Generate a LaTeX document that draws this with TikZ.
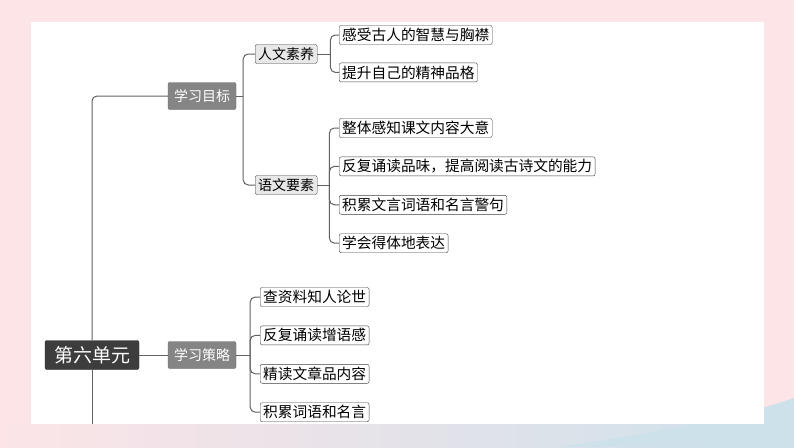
\documentclass[tikz,border=0pt]{standalone}
\usepackage{fontspec}
\newfontfamily\cjk{Noto Sans CJK SC}
\usepackage{xcolor}
\usepackage{tikz}
\usetikzlibrary{positioning}
\definecolor{bgpink}{HTML}{FCE4E7}
\definecolor{bgblue}{HTML}{CDE1EB}

\begin{document}
\begin{tikzpicture}[x=1pt, y=-1pt,
  unit/.style={draw=black!85, fill=black!76, rounded corners=2pt, text=white,
    font=\cjk\fontsize{19}{21}\selectfont, minimum height=29pt, inner xsep=9pt, inner ysep=0pt},
  topic/.style={draw=black!60, fill=black!48, rounded corners=2pt, text=white,
    font=\cjk\fontsize{14}{16}\selectfont, minimum height=27pt, inner xsep=6pt, inner ysep=0pt},
  sub/.style={draw=black!75, fill=black!9, rounded corners=1.5pt,
    font=\cjk\fontsize{14}{16}\selectfont, minimum height=19pt, inner xsep=3pt, inner ysep=0pt},
  leaf/.style={draw=black!75, fill=white, rounded corners=2pt,
    font=\cjk\fontsize{14.7}{17}\selectfont, minimum height=19pt, inner xsep=3pt, inner ysep=0pt},
  link/.style={draw=black!62, line width=1pt, rounded corners=5pt},
]
  \useasboundingbox (0,0) rectangle (794,447);
  \fill[bgpink] (0,0) rectangle (794,447);
  \shade[left color=bgpink, right color=bgblue] (0,424) rectangle (794,447);
  \fill[bgblue] (560,447) .. controls (660,432) and (730,420) .. (794,398) -- (794,447) -- cycle;
  \fill[white] (31,22) rectangle (764,424);

  \node[unit] (unit) at (92,355) {第六单元};
  \node[topic] (goal) at (202,96) {学习目标};
  \node[topic] (plan) at (202,355) {学习策略};

  \node[sub, anchor=west] (hum) at (255,54) {人文素养};
  \node[sub, anchor=west] (lang) at (255,185) {语文要素};

  \node[leaf, anchor=west] (h1) at (339,35) {感受古人的智慧与胸襟};
  \node[leaf, below=18pt of h1.south west, anchor=north west] (h2) {提升自己的精神品格};

  \node[leaf, anchor=west] (l1) at (339,128) {整体感知课文内容大意};
  \node[leaf, below=19pt of l1.south west, anchor=north west] (l2) {反复诵读品味，提高阅读古诗文的能力};
  \node[leaf, below=19pt of l2.south west, anchor=north west] (l3) {积累文言词语和名言警句};
  \node[leaf, below=19pt of l3.south west, anchor=north west] (l4) {学会得体地表达};

  \node[leaf, anchor=west] (p1) at (260,297) {查资料知人论世};
  \node[leaf, below=19pt of p1.south west, anchor=north west] (p2) {反复诵读增语感};
  \node[leaf, below=19pt of p2.south west, anchor=north west] (p3) {精读文章品内容};
  \node[leaf, below=19pt of p3.south west, anchor=north west] (p4) {积累词语和名言};

  \coordinate (trunkend) at (92,424);
  \draw[link] (goal.west) -| (unit.north);
  \draw[link] (unit.south) -- (trunkend);
  \draw[link] (unit.east) -- (plan.west);

  \coordinate[right=7pt of goal.east] (gbar);
  \draw[link] (goal.east) -- (gbar);
  \foreach \c in {hum,lang}
    \draw[link] (gbar) |- (\c.west);

  \coordinate[right=13pt of hum.east] (hbar);
  \draw[link] (hum.east) -- (hbar);
  \foreach \c in {h1,h2}
    \draw[link] (hbar) |- (\c.west);

  \coordinate[right=12pt of lang.east] (lbar);
  \draw[link] (lang.east) -- (lbar);
  \foreach \c in {l1,l2,l3,l4}
    \draw[link] (lbar) |- (\c.west);

  \coordinate[right=14pt of plan.east] (pbar);
  \draw[link] (plan.east) -- (pbar);
  \foreach \c in {p1,p2,p3,p4}
    \draw[link] (pbar) |- (\c.west);
\end{tikzpicture}
\end{document}
